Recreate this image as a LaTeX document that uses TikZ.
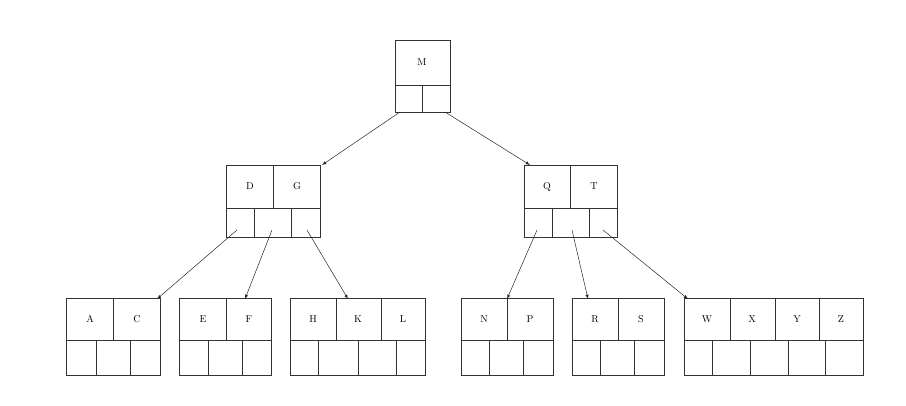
\documentclass[tikz,border=0pt]{standalone}
\begin{document}
\begin{tikzpicture}[x=1pt,y=-1pt,
  ln/.style={draw=black!80,line width=0.6pt},
  lbl/.style={font=\normalsize},
  arr/.style={draw=black!85,line width=0.5pt,-latex}]
\useasboundingbox (0,0) rectangle (906,405);
\newcommand\bnode[9]{%
  \draw[ln] (#2,#4) rectangle (#3,#6);
  \coordinate (#1) at ({(#2+#3)/2},#4);
  \draw[ln] (#2,#5)--(#3,#5);
  \foreach \d in {#7} {\draw[ln] (\d,#4)--(\d,#5);}
  \foreach \d in {#8} {\draw[ln] (\d,#5)--(\d,#6);}
  \foreach \xx/\t in {#9} {\node[lbl] at (\xx,{(#4+#5)/2}) {\t};}
}
\bnode{root}{395}{450}{40}{85}{112}{}{422}{422/M}
\bnode{l2a}{226}{320}{165}{208}{237}{273}{254,291}{250/D,297/G}
\bnode{l2b}{524}{617}{165}{208}{237}{570}{552,589}{547/Q,594/T}
\bnode{ac}{66}{160}{298}{340}{375}{113}{96,130}{90/A,137/C}
\bnode{ef}{179}{271}{298}{340}{375}{226}{208,242}{203/E,249/F}
\bnode{hkl}{290}{425}{298}{340}{375}{336,381}{318,358,396}{313/H,358/K,403/L}
\bnode{np}{461}{553}{298}{340}{375}{507}{489,523}{484/N,530/P}
\bnode{rs}{572}{664}{298}{340}{375}{618}{600,634}{595/R,641/S}
\bnode{wz}{684}{863}{298}{340}{375}{730,775,819}{712,750,788,825}{707/W,752/X,797/Y,841/Z}
\coordinate (r1) at (400,112); \coordinate (r2) at (445,112);
\coordinate (a1) at (237,230); \coordinate (a2) at (272,230); \coordinate (a3) at (307,230);
\coordinate (b1) at (537,230); \coordinate (b2) at (572,230); \coordinate (b3) at (603,230);
\draw[arr] (r1) -- (322,165);
\draw[arr] (r2) -- (530,165);
\draw[arr] (a1) -- (157,299);
\draw[arr] (a2) -- (245,299);
\draw[arr] (a3) -- (348,299);
\draw[arr] (b1) -- (507,299);
\draw[arr] (b2) -- (588,299);
\draw[arr] (b3) -- (688,299);
\end{tikzpicture}
\end{document}
